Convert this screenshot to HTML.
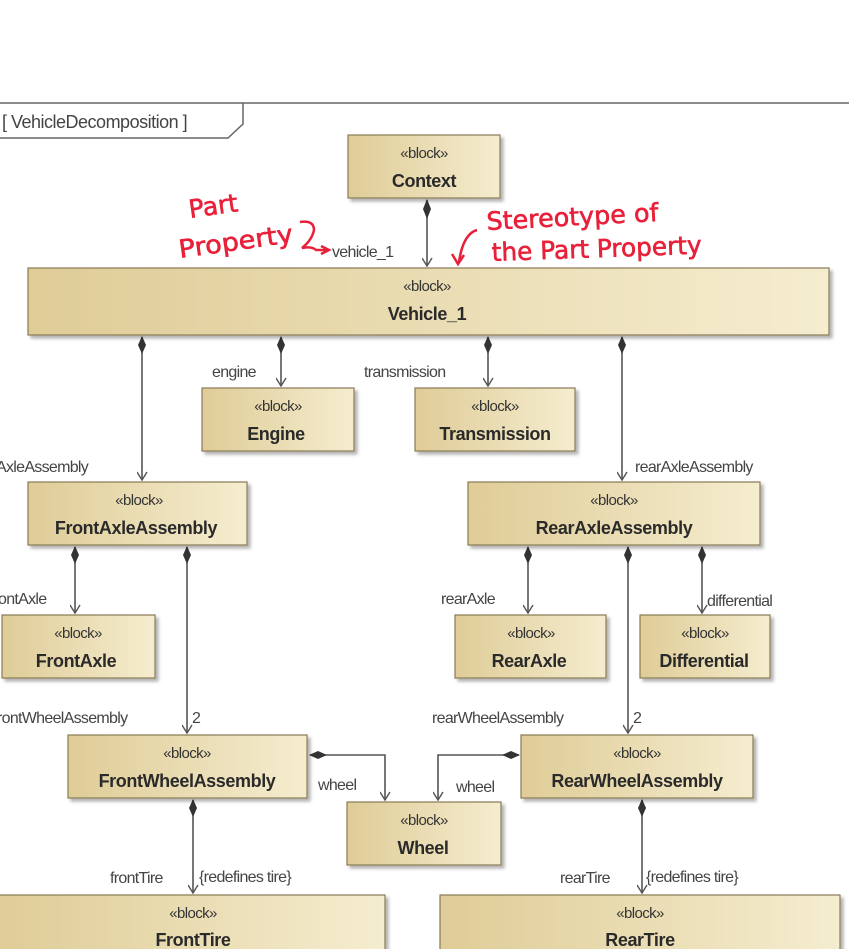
<!DOCTYPE html>
<html><head><meta charset="utf-8"><style>
html,body{margin:0;padding:0;background:#fff;width:849px;height:949px;overflow:hidden}
svg{display:block}
.st{font-family:"Liberation Sans",sans-serif;font-size:15px;fill:#333;text-anchor:middle;letter-spacing:-0.6px}
.nm{font-family:"Liberation Sans",sans-serif;font-size:18px;font-weight:bold;fill:#2a2a2a;text-anchor:middle;letter-spacing:-0.4px}
.lb{font-family:"Liberation Sans",sans-serif;font-size:16px;fill:#444;letter-spacing:-0.7px}
.red{font-family:"DejaVu Sans",sans-serif;fill:#e8203a;font-size:25px;stroke:#e8203a;stroke-width:0.6}
.ln{stroke:#555;stroke-width:1.6;fill:none}
.bx{fill:url(#g);stroke:#8a7a55;stroke-width:1.2;filter:url(#sh)}
</style></head><body>
<svg width="849" height="949" viewBox="0 0 849 949">
<defs>
<linearGradient id="g" x1="0" y1="0" x2="1" y2="0">
<stop offset="0" stop-color="#dfcc97"/><stop offset="1" stop-color="#f5edcf"/>
</linearGradient>
<filter id="sh" x="-5%" y="-5%" width="115%" height="125%"><feDropShadow dx="3" dy="3" stdDeviation="1.5" flood-color="#000" flood-opacity="0.3"/></filter>
<marker id="ar" markerWidth="12" markerHeight="12" refX="5" refY="9" orient="0" markerUnits="userSpaceOnUse"><path d="M0,1 L5,9 L10,1" fill="none" stroke="#555" stroke-width="1.4"/></marker>
</defs>
<line x1="0" y1="103" x2="849" y2="103" stroke="#666" stroke-width="1.5"/>
<path d="M0,138 H228 L243,124 V103" fill="none" stroke="#666" stroke-width="1.5"/>
<text x="2" y="128" class="lb" style="font-size:18px;letter-spacing:-0.5px">[ VehicleDecomposition ]</text>

<g class="ln">
<path d="M427,200 V266" marker-end="url(#ar)"/>
<path d="M142,337 V480" marker-end="url(#ar)"/>
<path d="M281,337 V386" marker-end="url(#ar)"/>
<path d="M488,337 V386" marker-end="url(#ar)"/>
<path d="M622,337 V480" marker-end="url(#ar)"/>
<path d="M75,547 V613" marker-end="url(#ar)"/>
<path d="M187,547 V733" marker-end="url(#ar)"/>
<path d="M528,547 V613" marker-end="url(#ar)"/>
<path d="M628,547 V733" marker-end="url(#ar)"/>
<path d="M702,547 V613" marker-end="url(#ar)"/>
<path d="M193,800 V893" marker-end="url(#ar)"/>
<path d="M642,800 V893" marker-end="url(#ar)"/>
<path d="M310,755 H385 V800" marker-end="url(#ar)"/>
<path d="M519,755 H438 V800" marker-end="url(#ar)"/>
</g>
<g fill="#333">
<path d="M427,199 l-4,10 l4,10 l4,-10z"/>
<path d="M142,336 l-4,9 l4,9 l4,-9z"/>
<path d="M281,336 l-4,9 l4,9 l4,-9z"/>
<path d="M488,336 l-4,9 l4,9 l4,-9z"/>
<path d="M622,336 l-4,9 l4,9 l4,-9z"/>
<path d="M75,546 l-4,9 l4,9 l4,-9z"/>
<path d="M187,546 l-4,9 l4,9 l4,-9z"/>
<path d="M528,546 l-4,9 l4,9 l4,-9z"/>
<path d="M628,546 l-4,9 l4,9 l4,-9z"/>
<path d="M702,546 l-4,9 l4,9 l4,-9z"/>
<path d="M193,799 l-4,9 l4,9 l4,-9z"/>
<path d="M642,799 l-4,9 l4,9 l4,-9z"/>
<path d="M309,755 l9,-4 l9,4 l-9,4z"/>
<path d="M520,755 l-9,-4 l-9,4 l9,4z"/>
</g>

<rect class="bx" x="348" y="135" width="152" height="63"/>
<text class="st" x="424" y="158">«block»</text><text class="nm" x="424" y="187">Context</text>
<rect class="bx" x="28" y="268" width="801" height="67"/>
<text class="st" x="427" y="291">«block»</text><text class="nm" x="427" y="320">Vehicle_1</text>
<rect class="bx" x="202" y="388" width="152" height="63"/>
<text class="st" x="278" y="411">«block»</text><text class="nm" x="276" y="440">Engine</text>
<rect class="bx" x="415" y="388" width="160" height="63"/>
<text class="st" x="495" y="411">«block»</text><text class="nm" x="495" y="440">Transmission</text>
<rect class="bx" x="28" y="482" width="219" height="63"/>
<text class="st" x="139" y="505">«block»</text><text class="nm" x="136" y="534">FrontAxleAssembly</text>
<rect class="bx" x="468" y="482" width="292" height="63"/>
<text class="st" x="614" y="505">«block»</text><text class="nm" x="614" y="534">RearAxleAssembly</text>
<rect class="bx" x="2" y="615" width="153" height="63"/>
<text class="st" x="78" y="638">«block»</text><text class="nm" x="76" y="667">FrontAxle</text>
<rect class="bx" x="455" y="615" width="151" height="63"/>
<text class="st" x="531" y="638">«block»</text><text class="nm" x="529" y="667">RearAxle</text>
<rect class="bx" x="640" y="615" width="130" height="63"/>
<text class="st" x="705" y="638">«block»</text><text class="nm" x="704" y="667">Differential</text>
<rect class="bx" x="68" y="735" width="239" height="63"/>
<text class="st" x="187" y="758">«block»</text><text class="nm" x="187" y="787">FrontWheelAssembly</text>
<rect class="bx" x="521" y="735" width="232" height="63"/>
<text class="st" x="637" y="758">«block»</text><text class="nm" x="637" y="787">RearWheelAssembly</text>
<rect class="bx" x="347" y="802" width="154" height="63"/>
<text class="st" x="424" y="825">«block»</text><text class="nm" x="423" y="854">Wheel</text>
<rect class="bx" x="-2" y="895" width="387" height="70"/>
<text class="st" x="193" y="918">«block»</text><text class="nm" x="193" y="946">FrontTire</text>
<rect class="bx" x="440" y="895" width="400" height="70"/>
<text class="st" x="640" y="918">«block»</text><text class="nm" x="640" y="946">RearTire</text>

<text class="lb" x="332" y="257">vehicle_1</text>
<text class="lb" x="212" y="377">engine</text>
<text class="lb" x="364" y="377">transmission</text>
<text class="lb" x="-4" y="472">AxleAssembly</text>
<text class="lb" x="635" y="472">rearAxleAssembly</text>
<text class="lb" x="-2" y="604">ontAxle</text>
<text class="lb" x="441" y="604">rearAxle</text>
<text class="lb" x="707" y="606">differential</text>
<text class="lb" x="-3" y="723">rontWheelAssembly</text>
<text class="lb" x="192" y="723">2</text>
<text class="lb" x="432" y="723">rearWheelAssembly</text>
<text class="lb" x="633" y="723">2</text>
<text class="lb" x="318" y="790">wheel</text>
<text class="lb" x="456" y="792">wheel</text>
<text class="lb" x="110" y="883">frontTire</text>
<text class="lb" x="199" y="882">{redefines tire}</text>
<text class="lb" x="560" y="883">rearTire</text>
<text class="lb" x="646" y="882">{redefines tire}</text>

<text class="red" x="190" y="218" transform="rotate(-8 190 218)">Part</text>
<text class="red" x="180" y="258" transform="rotate(-8 180 258)" textLength="115" lengthAdjust="spacingAndGlyphs">Property</text>
<path d="M300,222 q14,-2 14,8 q-2,10 -12,18 q10,-2 14,2 h12" fill="none" stroke="#e8203a" stroke-width="2.5"/>
<path d="M321,246 l8,4 l-8,4" fill="none" stroke="#e8203a" stroke-width="2.5"/>
<text class="red" x="487" y="230" transform="rotate(-3 487 230)" textLength="172" lengthAdjust="spacingAndGlyphs">Stereotype of</text>
<text class="red" x="492" y="261" transform="rotate(-2 492 261)" textLength="210" lengthAdjust="spacingAndGlyphs">the Part Property</text>
<path d="M477,230 q-14,4 -18,32" fill="none" stroke="#e8203a" stroke-width="2.5"/>
<path d="M452,254 l6,10 l6,-9" fill="none" stroke="#e8203a" stroke-width="2.5"/>
</svg>
</body></html>
